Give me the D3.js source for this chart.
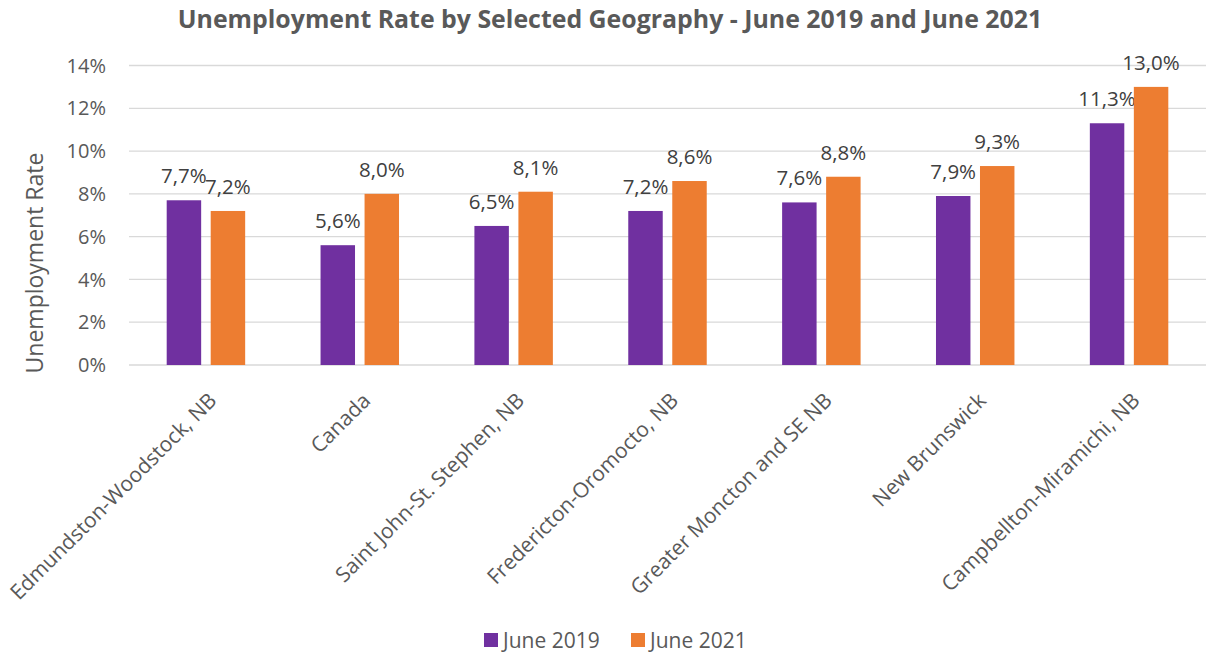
<!DOCTYPE html>
<html><head><meta charset="utf-8">
<script src="https://cdn.jsdelivr.net/npm/d3@7"></script>
<style>body{margin:0;background:#fff}svg{display:block;font-family:"Open Sans",sans-serif}</style>
</head><body><svg id="c" width="1207" height="654"></svg>
<script>
const categories = ["Edmundston-Woodstock, NB","Canada","Saint John-St. Stephen, NB","Fredericton-Oromocto, NB","Greater Moncton and SE NB","New Brunswick","Campbellton-Miramichi, NB"];
const seriesNames = ["June 2019","June 2021"];
const june2019 = [7.7,5.6,6.5,7.2,7.6,7.9,11.3];
const june2021 = [7.2,8.0,8.1,8.6,8.8,9.3,13.0];
const yTicks = [0,2,4,6,8,10,12,14];
const colors = ["#7030A0","#ED7D31"];

(function(){
const svg = d3.select("#c");
const pL = 129, pR = 1206, pT = 65.5, pB = 365;
const x = d3.scaleBand().domain(categories).range([pL,pR]).paddingInner(0).paddingOuter(0);
const y = d3.scaleLinear().domain([0,14]).range([pB,pT]);
const bw = x.bandwidth()*0.224, gap = x.bandwidth()*0.062;

svg.append("g").selectAll("line").data(yTicks).join("line")
  .attr("x1",pL).attr("x2",pR).attr("y1",d=>y(d)).attr("y2",d=>y(d))
  .attr("stroke","#d9d9d9").attr("stroke-width",1.3);
svg.append("g").selectAll("text").data(yTicks).join("text")
  .attr("x",106).attr("y",d=>y(d)).attr("dy","0.36em").attr("text-anchor","end")
  .attr("font-size",20).attr("fill","#595959").text(d=>d+"%");

const fmt = v => v.toFixed(1).replace(".",",")+"%";
[june2019,june2021].forEach((vals,si)=>{
  const off = si===0 ? -gap/2-bw : gap/2;
  const g = svg.append("g");
  g.selectAll("rect").data(vals).join("rect")
    .attr("x",(d,i)=>x(categories[i])+x.bandwidth()/2+off)
    .attr("y",d=>y(d)).attr("width",bw).attr("height",d=>y(0)-y(d))
    .attr("fill",colors[si]);
  g.selectAll("text").data(vals).join("text")
    .attr("x",(d,i)=>x(categories[i])+x.bandwidth()/2+off+bw/2)
    .attr("y",d=>y(d)-17).attr("text-anchor","middle")
    .attr("font-size",20.5).attr("fill","#404040").text(fmt);
});

svg.append("g").selectAll("text").data(categories).join("text")
  .attr("transform",d=>`translate(${x(d)+x.bandwidth()/2+12},${pB+37}) rotate(-45)`)
  .attr("text-anchor","end").attr("font-size",21).attr("fill","#595959").text(d=>d);

svg.append("text").attr("transform",`translate(43,263) rotate(-90)`)
  .attr("text-anchor","middle").attr("font-size",23).attr("fill","#595959").text("Unemployment Rate");

const t = svg.append("text").attr("x",610).attr("y",28).attr("text-anchor","middle")
  .attr("font-weight","bold").attr("font-size",21).attr("fill","#595959")
  .text("Unemployment Rate by Selected Geography - June 2019 and June 2021");
const w = t.node().getComputedTextLength();
t.attr("font-size",21*865/w);

const lg = svg.append("g");
const lx = [484,631];
seriesNames.forEach((n,i)=>{
  lg.append("rect").attr("x",lx[i]).attr("y",633).attr("width",14).attr("height",14).attr("fill",colors[i]);
  lg.append("text").attr("x",lx[i]+19).attr("y",648).attr("font-size",21).attr("fill","#595959").text(n);
});
})();
</script></body></html>
